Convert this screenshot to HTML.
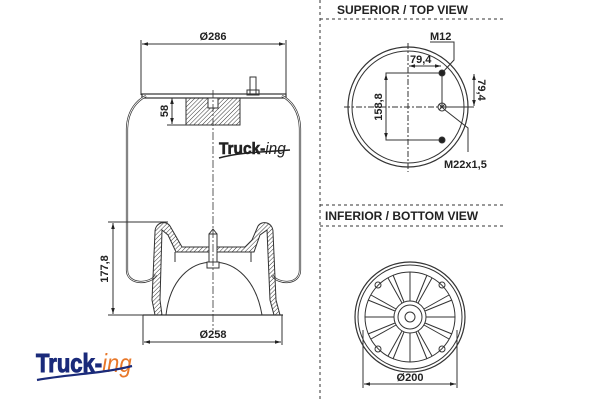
<!DOCTYPE html>
<html><head><meta charset="utf-8"><style>
body{margin:0;background:#fff;width:600px;height:400px;overflow:hidden}
svg{display:block}
text{font-family:"Liberation Sans",sans-serif;font-weight:bold;fill:#222}
</style></head><body>
<svg width="600" height="400" viewBox="0 0 600 400" xmlns="http://www.w3.org/2000/svg">
<defs>
<pattern id="h" width="3" height="3" patternUnits="userSpaceOnUse" patternTransform="rotate(45)"><line x1="0" y1="0" x2="0" y2="3" stroke="#333" stroke-width="1"/></pattern>
<marker id="a" viewBox="0 0 10 10" refX="10" refY="5" markerWidth="6" markerHeight="6" orient="auto-start-reverse"><path d="M0,2 L10,5 L0,8z" fill="#222"/></marker>
</defs>
<g stroke="#333" fill="none" stroke-width="1">
<line x1="320" y1="0" x2="320" y2="400" stroke-dasharray="3,3"/>
<line x1="320" y1="19" x2="505" y2="19" stroke-dasharray="3,3"/>
<line x1="320" y1="205" x2="505" y2="205" stroke-dasharray="3,3"/>
<line x1="320" y1="226" x2="505" y2="226" stroke-dasharray="3,3"/>
<line x1="141" y1="40" x2="141" y2="95"/><line x1="286" y1="40" x2="286" y2="95"/>
<line x1="142" y1="44" x2="285" y2="44" marker-start="url(#a)" marker-end="url(#a)"/>
<rect x="142" y="94" width="144" height="4" stroke-width="1.2"/>
<rect x="250" y="77" width="6" height="17"/><rect x="247" y="90" width="12" height="5"/>
<rect x="186" y="98" width="54" height="27" fill="url(#h)"/>
<rect x="208" y="98" width="10" height="10" fill="#fff"/>
<path d="M146,96 C138,100 127,110 127,130 L127,270 C127,285 150,285 156,275" stroke-width="2.2"/>
<path d="M146,96 C138,100 127,110 127,130 L127,270 C127,285 150,285 156,275" stroke="#fff" stroke-width="0.8"/>
<path d="M282,96 C290,100 300,110 300,130 L300,270 C300,285 278,285 272,275" stroke-width="2.2"/>
<path d="M282,96 C290,100 300,110 300,130 L300,270 C300,285 278,285 272,275" stroke="#fff" stroke-width="0.8"/>
<path d="M155,315 L152,300 L155,232 C155,222 166,220 170,226 L178,240 L182,247 L245,247 L252,240 L258,226 C262,220 273,222 273,232 L276,300 L280,315 L274,315 L270,300 L267,230 L260,235 L254,252 L176,252 L168,235 L162,230 L160,300 L162,315z" fill="url(#h)" stroke-width="1"/>
<path d="M175,252 L175,262 M251,252 L251,262"/>
<path d="M166,315 C170,280 190,262 213,262 C236,262 256,280 262,315"/>
<rect x="209" y="234" width="8" height="28" fill="#fff"/><path d="M209,234 L213,229 L217,234"/>
<rect x="207" y="262" width="12" height="6" fill="#fff"/>
<line x1="143" y1="315" x2="283" y2="315" stroke-width="1.2"/>
<line x1="143" y1="315" x2="143" y2="345"/><line x1="282" y1="315" x2="282" y2="345"/>
<line x1="144" y1="342" x2="281" y2="342" marker-start="url(#a)" marker-end="url(#a)"/>
<line x1="213" y1="90" x2="213" y2="330" stroke-dasharray="8,2,2,2" stroke-width="0.8"/>
<line x1="108" y1="222" x2="168" y2="222"/><line x1="108" y1="315" x2="143" y2="315"/>
<line x1="113" y1="223" x2="113" y2="314" marker-start="url(#a)" marker-end="url(#a)"/>
<line x1="167" y1="125" x2="186" y2="125"/>
<line x1="172" y1="98" x2="172" y2="124" marker-start="url(#a)" marker-end="url(#a)"/>
<circle cx="408" cy="107" r="60" stroke-width="1.2"/><circle cx="408" cy="107" r="56"/>
<line x1="408" y1="43" x2="408" y2="172" stroke-dasharray="6,2,2,2"/>
<line x1="344" y1="107" x2="472" y2="107" stroke-dasharray="6,2,2,2"/>
<path d="M442,73 L386,73 L386,140 L442,140 M442,73 L442,107 M442,107 L474,107"/>
<line x1="409" y1="66" x2="441" y2="66" marker-start="url(#a)" marker-end="url(#a)"/>
<line x1="474" y1="74" x2="474" y2="106" marker-start="url(#a)" marker-end="url(#a)"/>
<line x1="386" y1="74" x2="386" y2="139" marker-start="url(#a)" marker-end="url(#a)"/>
<circle cx="442" cy="107" r="4"/><path d="M439,104 L445,110 M445,104 L439,110"/>
<path d="M442,73 L454,60 L454,42 L430,42"/>
<path d="M445,110 L468,128 L468,152"/>
<circle cx="442" cy="73" r="3" fill="#222"/><circle cx="442" cy="140" r="3" fill="#222"/>
<circle cx="410" cy="317" r="55" stroke-width="1.2"/><circle cx="410" cy="317" r="52"/><circle cx="410" cy="317" r="45"/>
<circle cx="410" cy="317" r="16"/><circle cx="410" cy="317" r="12"/><circle cx="410" cy="317" r="5"/>
<g stroke-width="1">
<path d="M410,301 L410,272 M410,333 L410,362 M394,317 L365,317 M426,317 L455,317
M418,303 L432,278 M402,331 L388,356 M424,309 L449,295 M396,325 L371,339
M402,303 L388,278 M418,331 L432,356 M396,309 L371,295 M424,325 L449,339
M416,302 L427,275 M404,332 L393,359 M395,311 L368,300 M425,323 L452,334
M404,302 L393,275 M416,332 L427,359 M395,323 L368,334 M425,311 L452,300"/>
</g>
<circle cx="378" cy="285" r="3"/><circle cx="442" cy="285" r="3"/><circle cx="378" cy="349" r="3"/><circle cx="442" cy="349" r="3"/>
<line x1="363" y1="330" x2="363" y2="388"/><line x1="457" y1="330" x2="457" y2="388"/>
<line x1="364" y1="384" x2="456" y2="384" marker-start="url(#a)" marker-end="url(#a)"/>
</g>
<text x="213" y="40" font-size="11" text-anchor="middle">Ø286</text>
<text x="213" y="338" font-size="11" text-anchor="middle">Ø258</text>
<text transform="translate(108,269) rotate(-90)" font-size="11" text-anchor="middle">177,8</text>
<text transform="translate(168,111) rotate(-90)" font-size="11" text-anchor="middle">58</text>
<text transform="translate(219,154) scale(1.1,1.2)" font-size="14" stroke="#222" stroke-width="0.5">Truck-<tspan font-style="italic" font-weight="normal" stroke-width="0">ing</tspan></text>
<path d="M219,158 C240,152 265,152 290,150" stroke="#222" stroke-width="1.5" fill="none"/>
<text x="337" y="14" font-size="12">SUPERIOR / TOP VIEW</text>
<text x="325" y="220" font-size="12">INFERIOR / BOTTOM VIEW</text>
<text x="430" y="40" font-size="11">M12</text>
<text x="410" y="63" font-size="11">79,4</text>
<text transform="translate(478,90) rotate(90)" font-size="11" text-anchor="middle">79,4</text>
<text transform="translate(382,107) rotate(-90)" font-size="11" text-anchor="middle">158,8</text>
<text x="444" y="168" font-size="11">M22x1,5</text>
<text x="410" y="381" font-size="11" text-anchor="middle">Ø200</text>
<text transform="translate(36,372) scale(1.05,1.25)" font-size="21" style="fill:#1a2a7a" stroke="#1a2a7a" stroke-width="0.8">Truck-<tspan font-style="italic" font-weight="normal" stroke-width="0" style="fill:#e8782a">ing</tspan></text>
<path d="M37,380 C70,374 100,374 132,366" stroke="#1a2a7a" stroke-width="2.2" fill="none"/>
</svg>
</body></html>
